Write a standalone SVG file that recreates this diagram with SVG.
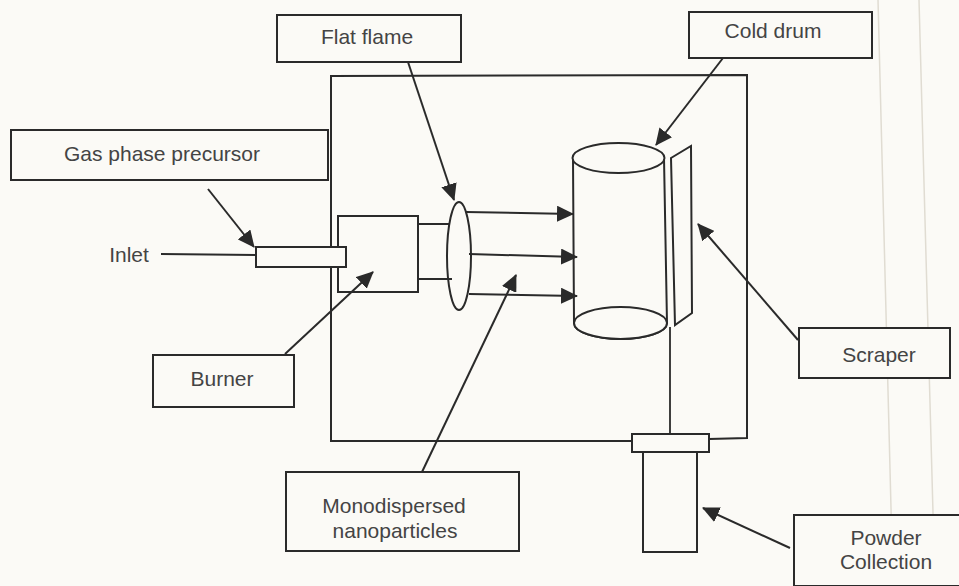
<svg xmlns="http://www.w3.org/2000/svg" width="959" height="586" viewBox="0 0 959 586">
<defs>
<marker id="a" markerUnits="userSpaceOnUse" markerWidth="17" markerHeight="16" refX="16" refY="8" orient="auto"><path d="M0,0 L17,8 L0,16 Z" fill="#2a2a2a"/></marker>
</defs>
<style>
.s{fill:none;stroke:#2a2a2a;stroke-width:2}
.b{fill:#fbfaf6;stroke:#2a2a2a;stroke-width:2}
.c{fill:none;stroke:#2a2a2a;stroke-width:1.8}
.h{fill:none;stroke:#2a2a2a;stroke-width:2;marker-end:url(#a)}
text{font-family:"Liberation Sans",Arial,sans-serif;font-size:21px;fill:#444;text-anchor:middle}
</style>
<rect width="959" height="586" fill="#fbfaf6"/>
<path d="M878,0 L893,586 M919,0 L935,586" stroke="#e0dcd2" stroke-width="1.5" fill="none"/>
<g id="chamber"><path class="s" d="M331,76 L747,75 L747,438 L632,441 L331,441 Z"/></g>
<g id="flat-flame"><rect class="b" x="277" y="15" width="184" height="47"/><text x="367" y="44">Flat flame</text></g>
<g id="cold-drum-label"><rect class="b" x="689" y="12" width="183" height="46"/><text x="773" y="38">Cold drum</text></g>
<g id="gas-phase-precursor"><rect class="b" x="11" y="130" width="317" height="50"/><text x="162" y="161">Gas phase precursor</text></g>
<g id="inlet"><text x="129" y="262">Inlet</text></g>
<g id="burner-unit"><rect class="b" x="338" y="216" width="80" height="76"/></g>
<g id="inlet-tube"><rect class="b" x="256" y="247" width="90" height="20"/></g>
<g id="flame-ellipse"><ellipse class="b" cx="459" cy="256" rx="12" ry="54"/></g>
<g id="burner-label"><rect class="b" x="153" y="355" width="141" height="52"/><text x="222" y="386">Burner</text></g>
<g id="monodispersed"><rect class="b" x="286" y="472" width="233" height="79"/><text x="394" y="513">Monodispersed</text><text x="395" y="538">nanoparticles</text></g>
<g id="cold-drum"><path class="b" d="M573,158 L574,323 A46.500,16 0 0 0 667,323 L664,158 Z"/><ellipse class="b" cx="618.500" cy="158" rx="46" ry="15"/><ellipse class="b" cx="620.500" cy="323" rx="46.500" ry="16"/></g>
<g id="scraper-blade"><path class="b" d="M671,158 L691,146 L692,313 L675,325 Z"/></g>
<g id="scraper"><rect class="b" x="799" y="328" width="151" height="50"/><text x="879" y="362">Scraper</text></g>
<g id="collector"><rect class="b" x="643" y="452" width="54" height="100"/><rect class="b" x="632" y="434" width="77" height="18"/></g>
<g id="powder"><path class="b" d="M959,515 L794,515 L794,586 L959,586"/><text x="886" y="545">Powder</text><text x="886" y="569">Collection</text></g>
<g id="connectors">
<path class="c" d="M161,254 L256,255"/>
<path class="c" d="M417,224 L449,224 M417,279 L452,279"/>
<path class="h" d="M466,212 L573,214"/>
<path class="h" d="M469,254 L577,257"/>
<path class="h" d="M469,294 L577,296"/>
<path class="h" d="M408,62 L454,200"/>
<path class="h" d="M723,58 L656,145"/>
<path class="h" d="M208,189 L254,247"/>
<path class="h" d="M285,354 L373,272"/>
<path class="h" d="M422,472 L516,275"/>
<path class="h" d="M798,340 L698,224"/>
<path class="h" d="M790,548 L703,508"/>
<path class="c" d="M670,327 L670,434"/>
</g>
</svg>
